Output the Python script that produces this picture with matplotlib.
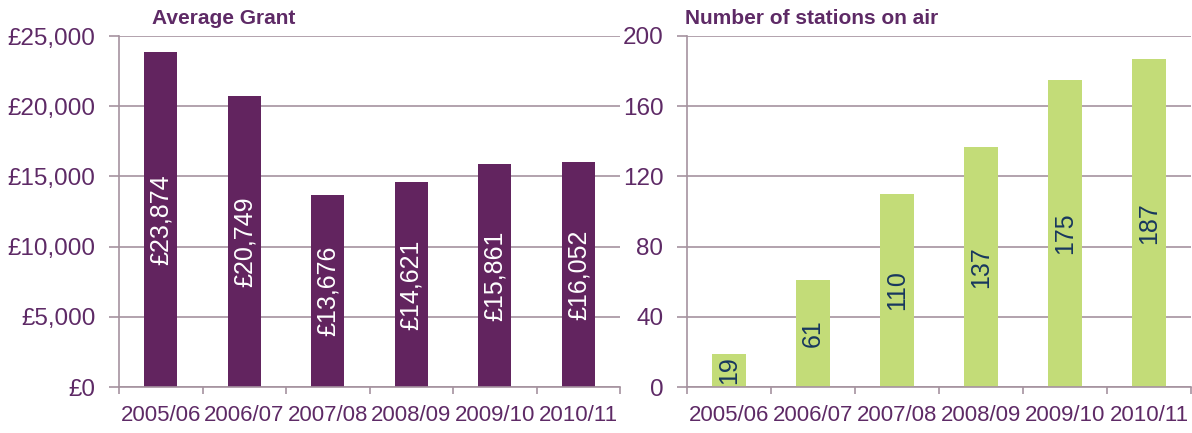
import numpy as np
import matplotlib.pyplot as plt
from matplotlib.ticker import FuncFormatter

plt.rcParams['font.family'] = ['Liberation Sans', 'DejaVu Sans']

years = ['2005/06', '2006/07', '2007/08', '2008/09', '2009/10', '2010/11']
avg_grant = [23874, 20749, 13676, 14621, 15861, 16052]
stations = [19, 61, 110, 137, 175, 187]

purple = '#62245F'
green = '#C3DC78'
text_col = '#5E2A66'
grid_col = '#A5929F'
navy = '#17375E'

W, H = 1192, 433
fig = plt.figure(figsize=(W / 100, H / 100), dpi=100)


def style_axes(ax, ymax, step):
    x = np.arange(len(years))
    ax.set_xlim(-0.5, len(years) - 0.5)
    ax.set_ylim(0, ymax)
    ax.set_yticks(np.arange(0, ymax + 1, step))
    ax.set_xticks(x)
    ax.set_xticklabels(years)
    ax.set_xticks(np.arange(-0.5, len(years), 1), minor=True)
    ax.tick_params(axis='x', which='major', length=0, pad=13,
                   labelsize=16, labelcolor=text_col)
    ax.tick_params(axis='x', which='minor', length=5, width=1.2, color=grid_col)
    ax.tick_params(axis='y', length=7, width=1.2, color=grid_col,
                   labelsize=17.5, labelcolor=text_col, pad=10)
    ax.grid(axis='y', color=grid_col, linewidth=1.2)
    ax.set_axisbelow(True)
    for s in ['top', 'right']:
        ax.spines[s].set_visible(False)
    for s in ['left', 'bottom']:
        ax.spines[s].set_color(grid_col)
        ax.spines[s].set_linewidth(1.2)


# left panel: average grant
ax1 = fig.add_axes([119 / W, 46 / H, 501 / W, 351 / H])
b1 = ax1.bar(np.arange(len(years)), avg_grant, width=0.4, color=purple)
style_axes(ax1, 25000, 5000)
ax1.yaxis.set_major_formatter(FuncFormatter(lambda v, p: '£{:,.0f}'.format(v)))
ax1.bar_label(b1, labels=['£{:,}'.format(v) for v in avg_grant],
              label_type='center', rotation=90, color='white', fontsize=18)
fig.text(152 / W, 1 - 18 / H, 'Average Grant', fontsize=15,
         fontweight='bold', color=text_col, va='center', ha='left')

# right panel: stations on air
ax2 = fig.add_axes([687 / W, 46 / H, 504 / W, 351 / H])
b2 = ax2.bar(np.arange(len(years)), stations, width=0.4, color=green)
style_axes(ax2, 200, 40)
ax2.bar_label(b2, labels=[str(v) for v in stations],
              label_type='center', rotation=90, color=navy, fontsize=18)
fig.text(685 / W, 1 - 18 / H, 'Number of stations on air', fontsize=15,
         fontweight='bold', color=text_col, va='center', ha='left')

fig.savefig('out.png', dpi=100)
